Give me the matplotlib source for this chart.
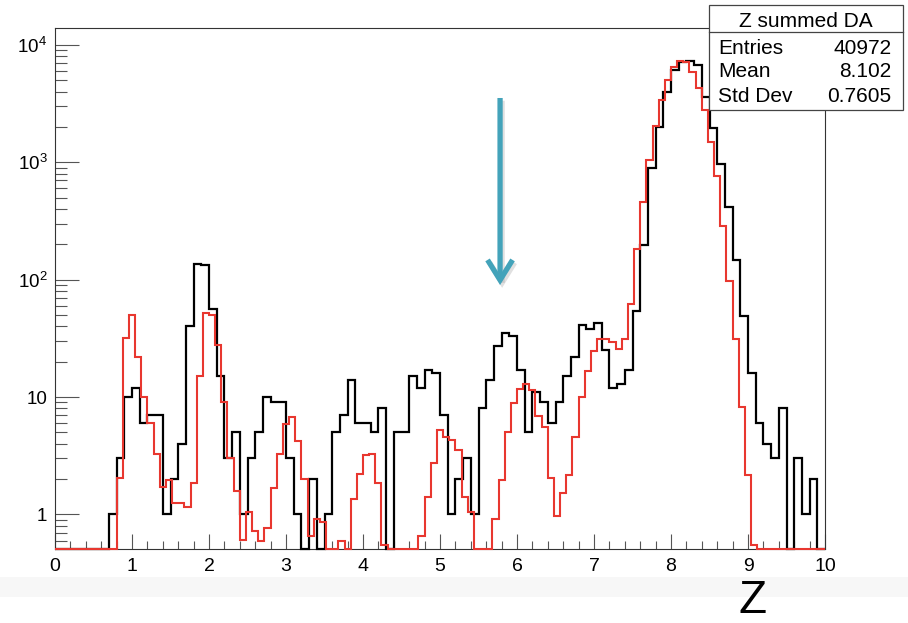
import numpy as np
import matplotlib
matplotlib.use('Agg')
import matplotlib.pyplot as plt
from matplotlib.patches import Rectangle
from matplotlib.lines import Line2D
import matplotlib.patheffects as pe
from matplotlib.ticker import FixedLocator, FixedFormatter, NullFormatter, LogLocator, MultipleLocator

plt.rcParams['font.family'] = ['Liberation Sans', 'DejaVu Sans']
plt.rcParams['mathtext.fontset'] = 'custom'
plt.rcParams['mathtext.rm'] = 'Liberation Sans'
plt.rcParams['mathtext.it'] = 'Liberation Sans:italic'
plt.rcParams['mathtext.bf'] = 'Liberation Sans:bold'

# ---------------- data ----------------
x_min, x_max = 0.0, 10.0
n_black_bins = 100
n_red_bins = 125

black_counts = [0, 0, 0, 0, 0, 0, 0, 1, 3, 10,
                12, 6, 7, 7, 1, 2, 4, 40, 137, 134,
                56, 15, 3, 5, 1, 3, 5, 10, 9, 9,
                3, 1, 0, 2, 0, 1, 5, 7, 14, 6,
                6, 5, 8, 0, 5, 5, 15, 12, 17, 16,
                7, 1, 2, 3, 1, 8, 14, 27, 35, 33,
                17, 5, 11, 9, 6, 9, 15, 22, 41, 38,
                43, 25, 12, 13, 17, 54, 199, 898, 2009, 3963,
                6100, 7130, 7280, 6690, 3616, 1968, 975, 414, 146, 49,
                16, 6, 4, 3, 8, 0, 3, 1, 2, 0]

red_counts = [0, 0, 0, 0, 0, 0, 0, 0, 0, 0,
              2.04, 32, 50, 22, 10, 6.0, 3.3, 1.73, 1.98, 1.25,
              1.25, 1.15, 1.85, 15.2, 52, 50, 27.6, 9.1, 3.0, 1.57,
              0.61, 1.04, 0.72, 0.60, 0.77, 1.68, 3.29, 5.9, 6.77, 4.19,
              2.0, 0.65, 0.92, 0.87, 0, 0, 0.60, 0, 1.36, 2.21,
              3.23, 3.29, 1.87, 0.55, 0, 0, 0, 0, 0, 0.65,
              1.41, 2.77, 5.2, 4.55, 4.33, 3.51, 1.41, 1.04, 0, 0,
              0, 0.92, 1.98, 5.0, 8.9, 11.7, 12.9, 11.4, 6.9, 5.6,
              2.04, 0.97, 1.52, 2.18, 4.6, 10, 16.8, 24.9, 31, 31,
              29.4, 25.8, 31.3, 62, 183, 457, 1042, 2032, 3382, 5013,
              6471, 7278, 7130, 5905, 4318, 2781, 1484, 770, 289, 97,
              31.3, 8.3, 2.18, 0.55, 0, 0, 0, 0, 0, 0,
              0, 0, 0, 0, 0]

x_ticks = [0, 1, 2, 3, 4, 5, 6, 7, 8, 9, 10]
x_tick_labels = ['0', '1', '2', '3', '4', '5', '6', '7', '8', '9', '10']
y_ticks = [1, 10, 100, 1000, 10000]
y_tick_labels = ['1', '10', r'$10^{2}$', r'$10^{3}$', r'$10^{4}$']

stats_title = 'Z summed DA'
stats_names = ['Entries', 'Mean', 'Std Dev']
stats_values = ['40972', '8.102', '0.7605']
x_title = 'Z'

arrow_x = 5.78
arrow_y_start = 3530
arrow_y_end = 90

y_min, y_max = 0.508, 14070

# ---------------- figure ----------------
W, H = 908, 623
fig = plt.figure(figsize=(W / 100, H / 100), dpi=100)
fig.patch.set_facecolor('white')


def fx(px):
    return px / W


def fy(py):
    return 1 - py / H


# light gray band at the bottom
fig.patches.append(Rectangle((0, fy(597)), 1, 20 / H, transform=fig.transFigure,
                             facecolor='#f7f7f7', edgecolor='none', zorder=0))

ax = fig.add_axes([fx(55), fy(549), (825 - 55) / W, (549 - 27.5) / H])
ax.set_facecolor('white')
ax.set_yscale('log')
ax.set_xlim(x_min, x_max)
ax.set_ylim(y_min, y_max)

black_edges = np.linspace(x_min, x_max, n_black_bins + 1)
red_edges = np.linspace(x_min, x_max, n_red_bins + 1)
b = np.asarray(black_counts, dtype=float)
r = np.asarray(red_counts, dtype=float)
b_plot = np.where(b > 0, b, y_min)
r_plot = np.where(r > 0, r, y_min)

ax.stairs(b_plot, black_edges, baseline=None, color='black', lw=1.6,
          zorder=3, clip_on=False)
ax.stairs(r_plot, red_edges, baseline=None, color='#e8372f', lw=1.5,
          zorder=4, clip_on=False)

# axes styling (ROOT-like)
for s in ax.spines.values():
    s.set_color('#333333')
    s.set_linewidth(0.8)

ax.xaxis.set_major_locator(FixedLocator(x_ticks))
ax.xaxis.set_major_formatter(FixedFormatter(x_tick_labels))
ax.xaxis.set_minor_locator(MultipleLocator(0.2))
ax.yaxis.set_major_locator(FixedLocator(y_ticks))
ax.yaxis.set_major_formatter(FixedFormatter(y_tick_labels))
ax.yaxis.set_minor_locator(LogLocator(base=10, subs=np.arange(2, 10)))
ax.yaxis.set_minor_formatter(NullFormatter())

ax.tick_params(axis='x', which='major', direction='in', length=11, width=0.8,
               color='#555555', pad=6.5, labelsize=14)
ax.tick_params(axis='x', which='minor', direction='in', length=5.6, width=0.8,
               color='#555555')
ax.tick_params(axis='y', which='major', direction='in', length=17, width=0.8,
               color='#555555', pad=5.5, labelsize=13.5)
ax.tick_params(axis='y', which='minor', direction='in', length=8.6, width=0.8,
               color='#555555')
ax.tick_params(top=False, right=False)

# arrow
ax.annotate('', xy=(arrow_x, arrow_y_end), xytext=(arrow_x, arrow_y_start),
            arrowprops=dict(arrowstyle='->,head_length=1.45,head_width=0.9',
                            lw=3.8, color='#43a3ba', shrinkA=0, shrinkB=0,
                            capstyle='butt', joinstyle='miter',
                            path_effects=[pe.SimpleLineShadow(offset=(1.5, -2),
                                                              shadow_color='#999999',
                                                              alpha=0.3),
                                          pe.Normal()]),
            zorder=6)

# stats box
box_l, box_t, box_r, box_b = 709, 5, 903, 110
fig.patches.append(Rectangle((fx(box_l), fy(box_b)), (box_r - box_l) / W,
                             (box_b - box_t) / H, transform=fig.transFigure,
                             facecolor='white', edgecolor='#444444', lw=0.9,
                             zorder=10))
fig.lines.append(Line2D([fx(box_l), fx(box_r)], [fy(32), fy(32)],
                        transform=fig.transFigure, color='#444444', lw=0.9,
                        zorder=11))
fig.text(fx((box_l + box_r) / 2), fy(26.7), stats_title, ha='center',
         va='baseline', fontsize=15, zorder=12)
row_baselines = [54, 77.3, 101.7]
for name, val, yb in zip(stats_names, stats_values, row_baselines):
    fig.text(fx(718), fy(yb), name, ha='left', va='baseline', fontsize=15,
             zorder=12)
    fig.text(fx(891.7), fy(yb), val, ha='right', va='baseline', fontsize=15,
             zorder=12)

# x title (kept fully inside the canvas)
fig.text(fx(752), fy(613), x_title, ha='center', va='baseline', fontsize=33,
         zorder=12)

fig.savefig('out.png', dpi=100, facecolor='white')
